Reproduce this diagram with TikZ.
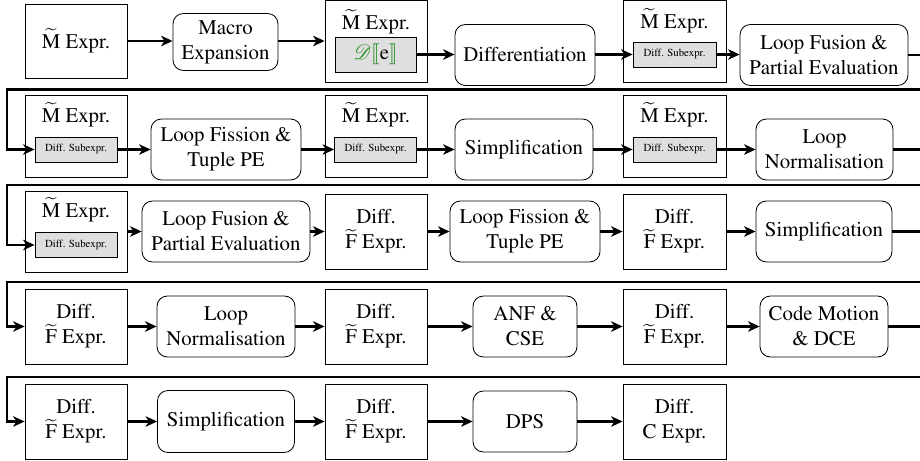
\documentclass[tikz,border=0pt]{standalone}
\usepackage[T1]{fontenc}
\usepackage{mathptmx}
\usepackage{mathrsfs}
\usepackage{stmaryrd}
\usetikzlibrary{arrows.meta,calc}
\definecolor{dgreen}{RGB}{34,139,34}
\newcommand{\Mt}{$\widetilde{\hbox{M}}$}
\newcommand{\Ft}{$\widetilde{\hbox{F}}$}
\def\pxu{0.48pt}
\begin{document}
\begin{tikzpicture}[x=0.48pt,y=-0.48pt,
  sz/.style 2 args={minimum width=#1*\pxu,minimum height=#2*\pxu},
  outer/.style={draw,line width=0.4pt,inner sep=0pt,align=center},
  proc/.style={draw,line width=0.4pt,rounded corners=5pt,align=center,inner sep=0pt},
  inbox/.style={draw,line width=0.4pt,fill=gray!25,inner sep=0pt},
  subt/.style={font=\fontsize{5.2}{6}\selectfont},
  arr/.style={line width=1pt,-{Stealth[length=5.5pt,width=5pt,inset=1.6pt]}},
  title/.style={anchor=base,inner sep=0pt}]
\clip (0,0) rectangle (920,461);
% ---------- Row 1 ----------
\node[outer,sz={102}{74}] (n1) at (76,41) {\Mt{} Expr.};
\node[proc,sz={105}{57}] (n2) at (225.5,42) {Macro\\Expansion};
\node[outer,sz={102}{82}] (n3) at (376,41) {};
\node[title] (n3t) at ($(n3.north)+(0,30)$) {\Mt{} Expr.};
\node[inbox,sz={81}{35}] (n3i) at (375.5,54.5) {{\color{dgreen}$\mathscr{D}\llbracket$}e{\color{dgreen}$\rrbracket$}};
\node[proc,sz={140}{61}] (n4) at (525,55) {Differentiation};
\node[outer,sz={103}{82}] (n5) at (674.5,41) {};
\node[title] (n5t) at ($(n5.north)+(0,29)$) {\Mt{} Expr.};
\node[inbox,subt,sz={83}{25}] (n5i) at (674.5,54.5) {Diff. Subexpr.};
\node[proc,sz={168}{61}] (n6) at (824,55) {Loop Fusion \&\\Partial Evaluation};
% ---------- Row 2 ----------
\node[outer,sz={102}{82}] (n7) at (76,136) {};
\node[title] (n7t) at ($(n7.north)+(0,28)$) {\Mt{} Expr.};
\node[inbox,subt,sz={82}{25}] (n7i) at (76,149.5) {Diff. Subexpr.};
\node[proc,sz={150}{61}] (n8) at (226,149.5) {Loop Fission \&\\Tuple PE};
\node[outer,sz={102}{82}] (n9) at (376,136) {};
\node[title] (n9t) at ($(n9.north)+(0,28)$) {\Mt{} Expr.};
\node[inbox,subt,sz={82}{25}] (n9i) at (375.5,149.5) {Diff. Subexpr.};
\node[proc,sz={138}{61}] (n10) at (524,149.5) {Simplification};
\node[outer,sz={103}{82}] (n11) at (674.5,136) {};
\node[title] (n11t) at ($(n11.north)+(0,28)$) {\Mt{} Expr.};
\node[inbox,subt,sz={83}{25}] (n11i) at (674.5,149.5) {Diff. Subexpr.};
\node[proc,sz={137}{61}] (n12) at (824.5,149.5) {Loop\\Normalisation};
% ---------- Row 3 ----------
\node[outer,sz={102}{81}] (n13) at (76,231.5) {};
\node[title] (n13t) at ($(n13.north)+(0,27)$) {\Mt{} Expr.};
\node[inbox,subt,sz={82}{25}] (n13i) at (76,245) {Diff. Subexpr.};
\node[proc,sz={168}{61}] (n14) at (226,231.5) {Loop Fusion \&\\Partial Evaluation};
\node[outer,sz={102}{75}] (n15) at (376,231.5) {Diff.\\\Ft{} Expr.};
\node[proc,sz={150}{61}] (n16) at (525,231.5) {Loop Fission \&\\Tuple PE};
\node[outer,sz={103}{75}] (n17) at (674.5,231.5) {Diff.\\\Ft{} Expr.};
\node[proc,sz={136}{61}] (n18) at (824,231.5) {Simplification};
% ---------- Row 4 ----------
\node[outer,sz={102}{75}] (n19) at (76,326.5) {Diff.\\\Ft{} Expr.};
\node[proc,sz={138}{61}] (n20) at (226,326.5) {Loop\\Normalisation};
\node[outer,sz={102}{75}] (n21) at (376,326.5) {Diff.\\\Ft{} Expr.};
\node[proc,sz={104}{61}] (n22) at (525,326.5) {ANF \&\\CSE};
\node[outer,sz={103}{75}] (n23) at (674.5,326.5) {Diff.\\\Ft{} Expr.};
\node[proc,sz={128}{61}] (n24) at (824,326.5) {Code Motion\\\& DCE};
% ---------- Row 5 ----------
\node[outer,sz={102}{75}] (n25) at (76,421.5) {Diff.\\\Ft{} Expr.};
\node[proc,sz={137}{62}] (n26) at (226,421.5) {Simplification};
\node[outer,sz={102}{75}] (n27) at (376,421.5) {Diff.\\\Ft{} Expr.};
\node[proc,sz={104}{61}] (n28) at (525,421.5) {DPS};
\node[outer,sz={103}{75}] (n29) at (674.5,421.5) {Diff.\\C Expr.};
% ---------- wrap points ----------
\coordinate (w1a) at (930,89.5);  \coordinate (w1b) at (7,89.5);
\coordinate (w2a) at (930,185);   \coordinate (w2b) at (7,185);
\coordinate (w3a) at (930,282);   \coordinate (w3b) at (7,282);
\coordinate (w4a) at (930,377);   \coordinate (w4b) at (7,377);
% ---------- connectors ----------
\draw[arr] (n1.east) -- (n1.east -| n2.west);
\draw[arr] (n2.east |- n3.west) -- (n3.west);
\draw[arr] (n3i.east) -- (n3i.east -| n4.west);
\draw[arr] (n4.east |- n5i.west) -- (n5i.west);
\draw[arr] (n5i.east) -- (n5i.east -| n6.west);
\draw[arr] (n6.east) -| (w1a) -- (w1b) |- (n7i.west);
\draw[arr] (n7i.east) -- (n7i.east -| n8.west);
\draw[arr] (n8.east |- n9i.west) -- (n9i.west);
\draw[arr] (n9i.east) -- (n9i.east -| n10.west);
\draw[arr] (n10.east |- n11i.west) -- (n11i.west);
\draw[arr] (n11i.east) -- (n11i.east -| n12.west);
\draw[arr] (n12.east) -| (w2a) -- (w2b) |- (n13i.west);
\draw[arr] (n13.east) -- (n13.east -| n14.west);
\draw[arr] (n14.east) -- (n14.east -| n15.west);
\draw[arr] (n15.east) -- (n15.east -| n16.west);
\draw[arr] (n16.east) -- (n16.east -| n17.west);
\draw[arr] (n17.east) -- (n17.east -| n18.west);
\draw[arr] (n18.east) -| (w3a) -- (w3b) |- (n19.west);
\draw[arr] (n19.east) -- (n19.east -| n20.west);
\draw[arr] (n20.east) -- (n20.east -| n21.west);
\draw[arr] (n21.east) -- (n21.east -| n22.west);
\draw[arr] (n22.east) -- (n22.east -| n23.west);
\draw[arr] (n23.east) -- (n23.east -| n24.west);
\draw[arr] (n24.east) -| (w4a) -- (w4b) |- (n25.west);
\draw[arr] (n25.east) -- (n25.east -| n26.west);
\draw[arr] (n26.east) -- (n26.east -| n27.west);
\draw[arr] (n27.east) -- (n27.east -| n28.west);
\draw[arr] (n28.east) -- (n28.east -| n29.west);
\end{tikzpicture}
\end{document}
